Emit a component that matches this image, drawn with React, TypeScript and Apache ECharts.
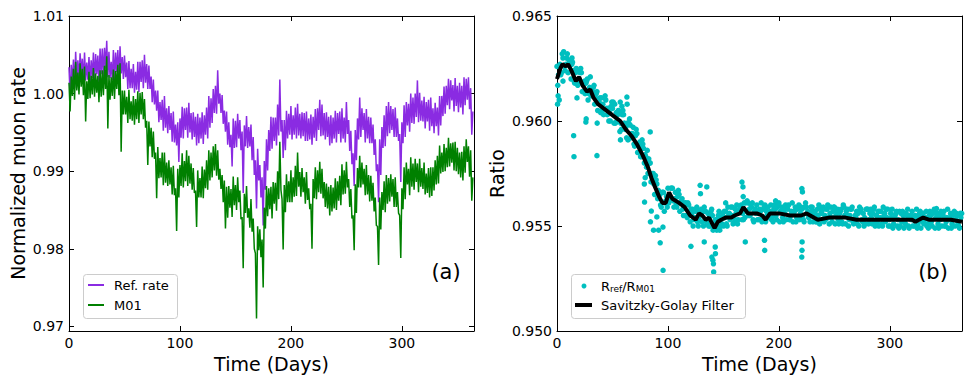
import React, { useEffect, useRef } from "react";
import * as echarts from "echarts";

const FONT = "DejaVu Sans";

// Left panel: the noisy rates are given as their upper envelope (even days 0..364)
const evenDays: number[] = Array.from({ length: 183 }, (_, i) => i * 2);
const oddDays: number[] = Array.from({ length: 182 }, (_, i) => i * 2 + 1);

const refRateHigh: number[] = [
  1.0034, 1.0037, 1.0044, 1.0054, 1.0043, 1.0052, 1.0045, 1.0053, 1.0040, 1.0047,
  1.0043, 1.0053, 1.0051, 1.0049, 1.0058, 1.0058, 1.0059, 1.0068, 1.0054, 1.0041,
  1.0056, 1.0053, 1.0056, 1.0061, 1.0047, 1.0049, 1.0040, 1.0042, 1.0032, 1.0038,
  1.0028, 1.0041, 1.0041, 1.0043, 1.0050, 1.0038, 1.0036, 1.0022, 1.0018, 1.0004,
  1.0004, 0.9989, 0.9992, 0.9997, 0.9981, 0.9984, 0.9975, 0.9977, 0.9960, 0.9963,
  0.9968, 0.9983, 0.9981, 0.9982, 0.9988, 0.9975, 0.9976, 0.9970, 0.9974, 0.9969,
  0.9976, 0.9972, 0.9982, 0.9997, 0.9994, 1.0006, 1.0010, 1.0030, 1.0000, 0.9998,
  0.9978, 0.9977, 0.9963, 0.9947, 0.9968, 0.9965, 0.9974, 0.9966, 0.9951, 0.9959,
  0.9971, 0.9957, 0.9960, 0.9944, 0.9914, 0.9929, 0.9908, 0.9892, 0.9913, 0.9941,
  0.9953, 0.9970, 0.9969, 0.9969, 0.9986, 1.0018, 0.9966, 0.9966, 0.9978, 0.9974,
  0.9984, 0.9972, 0.9982, 0.9987, 0.9974, 0.9976, 0.9975, 0.9977, 0.9968, 0.9973,
  0.9970, 0.9980, 0.9981, 0.9992, 0.9986, 0.9975, 0.9976, 0.9970, 0.9972, 0.9969,
  0.9978, 0.9975, 0.9977, 0.9981, 0.9969, 0.9989, 0.9966, 0.9952, 0.9923, 0.9953,
  0.9968, 0.9995, 0.9981, 0.9975, 0.9980, 0.9970, 0.9969, 0.9960, 0.9941, 0.9909,
  0.9941, 0.9957, 0.9972, 0.9984, 0.9989, 0.9984, 0.9980, 0.9982, 0.9968, 0.9948,
  0.9963, 0.9985, 0.9989, 0.9987, 1.0000, 0.9995, 1.0000, 1.0017, 1.0001, 0.9991,
  0.9996, 0.9989, 0.9992, 0.9995, 0.9981, 0.9988, 0.9982, 0.9997, 0.9997, 1.0009,
  1.0010, 1.0019, 1.0017, 1.0011, 1.0020, 1.0010, 1.0014, 1.0010, 1.0021, 1.0019,
  1.0021, 1.0007, 0.9977,
];

const refRateLow: number[] = [
  0.9997, 1.0014, 1.0007, 1.0018, 1.0017, 1.0025, 1.0014, 1.0017, 1.0018, 1.0014,
  1.0020, 1.0014, 1.0025, 1.0013, 1.0025, 1.0022, 1.0032, 1.0021, 1.0020, 1.0017,
  1.0017, 1.0028, 1.0020, 1.0026, 1.0019, 1.0021, 1.0006, 1.0007, 1.0007, 1.0001,
  1.0005, 1.0002, 1.0015, 1.0007, 1.0014, 1.0006, 1.0006, 0.9989, 0.9986, 0.9978,
  0.9963, 0.9966, 0.9952, 0.9956, 0.9949, 0.9953, 0.9938, 0.9937, 0.9933, 0.9912,
  0.9943, 0.9942, 0.9953, 0.9943, 0.9950, 0.9941, 0.9944, 0.9933, 0.9936, 0.9942,
  0.9935, 0.9947, 0.9942, 0.9956, 0.9962, 0.9975, 0.9974, 0.9987, 0.9975, 0.9961,
  0.9951, 0.9934, 0.9931, 0.9906, 0.9930, 0.9931, 0.9942, 0.9927, 0.9872, 0.9932,
  0.9930, 0.9932, 0.9914, 0.9895, 0.9852, 0.9888, 0.9866, 0.9830, 0.9876, 0.9901,
  0.9926, 0.9929, 0.9939, 0.9933, 0.9946, 0.9951, 0.9917, 0.9927, 0.9942, 0.9947,
  0.9941, 0.9947, 0.9942, 0.9946, 0.9942, 0.9945, 0.9939, 0.9939, 0.9941, 0.9934,
  0.9943, 0.9939, 0.9953, 0.9945, 0.9946, 0.9941, 0.9944, 0.9933, 0.9936, 0.9942,
  0.9937, 0.9948, 0.9937, 0.9942, 0.9937, 0.9948, 0.9926, 0.9909, 0.9881, 0.9914,
  0.9941, 0.9944, 0.9953, 0.9937, 0.9942, 0.9936, 0.9936, 0.9921, 0.9900, 0.9860,
  0.9895, 0.9930, 0.9932, 0.9945, 0.9949, 0.9953, 0.9944, 0.9944, 0.9939, 0.9886,
  0.9936, 0.9944, 0.9959, 0.9951, 0.9962, 0.9961, 0.9970, 0.9963, 0.9965, 0.9964,
  0.9955, 0.9964, 0.9952, 0.9958, 0.9949, 0.9958, 0.9946, 0.9959, 0.9971, 0.9974,
  0.9985, 0.9980, 0.9991, 0.9977, 0.9984, 0.9976, 0.9982, 0.9973, 0.9985, 0.9992,
  0.9980, 0.9947,
];

const m01RateHigh: number[] = [
  1.0014, 1.0022, 1.0032, 1.0041, 1.0027, 1.0039, 1.0032, 1.0035, 1.0016, 1.0028,
  1.0023, 1.0033, 1.0026, 1.0023, 1.0030, 1.0030, 1.0036, 1.0048, 1.0024, 1.0021,
  1.0031, 1.0029, 1.0037, 1.0039, 1.0004, 1.0004, 0.9996, 1.0005, 0.9990, 0.9997,
  0.9993, 1.0003, 1.0001, 1.0002, 0.9993, 0.9965, 0.9964, 0.9956, 0.9951, 0.9924,
  0.9931, 0.9917, 0.9924, 0.9924, 0.9911, 0.9914, 0.9905, 0.9907, 0.9878, 0.9903,
  0.9908, 0.9923, 0.9913, 0.9927, 0.9920, 0.9910, 0.9904, 0.9875, 0.9901, 0.9891,
  0.9906, 0.9902, 0.9914, 0.9927, 0.9924, 0.9932, 0.9935, 0.9927, 0.9903, 0.9895,
  0.9888, 0.9880, 0.9881, 0.9877, 0.9893, 0.9882, 0.9892, 0.9875, 0.9841, 0.9871,
  0.9881, 0.9852, 0.9864, 0.9839, 0.9794, 0.9829, 0.9825, 0.9812, 0.9853, 0.9881,
  0.9878, 0.9880, 0.9886, 0.9885, 0.9900, 0.9938, 0.9864, 0.9882, 0.9896, 0.9887,
  0.9901, 0.9892, 0.9907, 0.9924, 0.9899, 0.9904, 0.9892, 0.9899, 0.9878, 0.9858,
  0.9890, 0.9905, 0.9901, 0.9912, 0.9903, 0.9886, 0.9884, 0.9880, 0.9882, 0.9879,
  0.9891, 0.9887, 0.9894, 0.9909, 0.9901, 0.9912, 0.9890, 0.9877, 0.9843, 0.9883,
  0.9904, 0.9920, 0.9911, 0.9903, 0.9908, 0.9895, 0.9894, 0.9885, 0.9866, 0.9829,
  0.9866, 0.9873, 0.9887, 0.9895, 0.9891, 0.9896, 0.9890, 0.9892, 0.9873, 0.9843,
  0.9878, 0.9905, 0.9911, 0.9903, 0.9918, 0.9910, 0.9916, 0.9910, 0.9916, 0.9904,
  0.9911, 0.9897, 0.9904, 0.9905, 0.9905, 0.9914, 0.9920, 0.9933, 0.9924, 0.9935,
  0.9930, 0.9943, 0.9936, 0.9937, 0.9938, 0.9930, 0.9924, 0.9925, 0.9932, 0.9941,
  0.9932, 0.9927, 0.9892,
];

const m01RateLow: number[] = [
  0.9977, 0.9997, 0.9992, 1.0004, 0.9999, 1.0009, 0.9998, 0.9964, 0.9993, 0.9994,
  0.9999, 0.9996, 1.0001, 0.9989, 0.9996, 0.9998, 1.0006, 0.9955, 0.9992, 0.9997,
  0.9993, 1.0006, 0.9998, 0.9925, 0.9973, 0.9973, 0.9962, 0.9967, 0.9965, 0.9960,
  0.9967, 0.9962, 0.9973, 0.9967, 0.9956, 0.9908, 0.9932, 0.9918, 0.9916, 0.9865,
  0.9891, 0.9892, 0.9882, 0.9885, 0.9881, 0.9883, 0.9870, 0.9869, 0.9823, 0.9866,
  0.9881, 0.9879, 0.9887, 0.9881, 0.9884, 0.9876, 0.9872, 0.9828, 0.9866, 0.9866,
  0.9865, 0.9878, 0.9876, 0.9888, 0.9892, 0.9901, 0.9894, 0.9889, 0.9877, 0.9860,
  0.9826, 0.9840, 0.9853, 0.9841, 0.9856, 0.9850, 0.9860, 0.9838, 0.9775, 0.9846,
  0.9840, 0.9827, 0.9822, 0.9800, 0.9710, 0.9798, 0.9789, 0.9750, 0.9826, 0.9842,
  0.9851, 0.9839, 0.9858, 0.9849, 0.9864, 0.9876, 0.9799, 0.9847, 0.9860, 0.9860,
  0.9860, 0.9867, 0.9868, 0.9880, 0.9867, 0.9873, 0.9858, 0.9863, 0.9851, 0.9800,
  0.9865, 0.9864, 0.9873, 0.9871, 0.9865, 0.9854, 0.9852, 0.9843, 0.9848, 0.9852,
  0.9850, 0.9862, 0.9856, 0.9870, 0.9871, 0.9879, 0.9854, 0.9839, 0.9798, 0.9846,
  0.9879, 0.9879, 0.9883, 0.9869, 0.9870, 0.9861, 0.9862, 0.9848, 0.9830, 0.9779,
  0.9825, 0.9850, 0.9847, 0.9858, 0.9861, 0.9867, 0.9854, 0.9854, 0.9846, 0.9788,
  0.9851, 0.9864, 0.9883, 0.9869, 0.9880, 0.9876, 0.9886, 0.9873, 0.9880, 0.9877,
  0.9870, 0.9872, 0.9866, 0.9868, 0.9875, 0.9883, 0.9884, 0.9897, 0.9899, 0.9900,
  0.9905, 0.9906, 0.9911, 0.9901, 0.9900, 0.9896, 0.9892, 0.9888, 0.9898, 0.9912,
  0.9893, 0.9862,
];

// Right panel: ratio scatter, three interleaved sample sets (at even day, +0.7, +1.35)
const ratioSetA: number[] = [
  0.9626, 0.9626, 0.9623, 0.9633, 0.9627, 0.9623, 0.9628, 0.9628, 0.9618, 0.9624,
  0.9618, 0.9623, 0.9617, 0.9618, 0.9610, 0.9621, 0.9614, 0.9608, 0.9614, 0.9609,
  0.9611, 0.9603, 0.9610, 0.9606, 0.9600, 0.9606, 0.9608, 0.9600, 0.9604, 0.9596,
  0.9603, 0.9597, 0.9591, 0.9598, 0.9594, 0.9588, 0.9594, 0.9588, 0.9583, 0.9587,
  0.9583, 0.9575, 0.9580, 0.9573, 0.9565, 0.9570, 0.9566, 0.9559, 0.9566, 0.9562,
  0.9568, 0.9563, 0.9568, 0.9563, 0.9559, 0.9565, 0.9562, 0.9555, 0.9561, 0.9561,
  0.9552, 0.9558, 0.9554, 0.9559, 0.9554, 0.9558, 0.9550, 0.9557, 0.9556, 0.9550,
  0.9555, 0.9551, 0.9548, 0.9557, 0.9554, 0.9550, 0.9557, 0.9559, 0.9553, 0.9559,
  0.9552, 0.9560, 0.9557, 0.9560, 0.9553, 0.9561, 0.9561, 0.9555, 0.9561, 0.9557,
  0.9560, 0.9553, 0.9561, 0.9558, 0.9552, 0.9559, 0.9557, 0.9554, 0.9560, 0.9553,
  0.9561, 0.9557, 0.9552, 0.9560, 0.9558, 0.9553, 0.9561, 0.9557, 0.9554, 0.9560,
  0.9559, 0.9553, 0.9561, 0.9557, 0.9552, 0.9559, 0.9557, 0.9552, 0.9560, 0.9556,
  0.9559, 0.9553, 0.9560, 0.9556, 0.9552, 0.9559, 0.9557, 0.9551, 0.9558, 0.9560,
  0.9551, 0.9558, 0.9555, 0.9559, 0.9552, 0.9557, 0.9550, 0.9558, 0.9556, 0.9551,
  0.9558, 0.9556, 0.9551, 0.9559, 0.9555, 0.9550, 0.9557, 0.9559, 0.9552, 0.9558,
  0.9550, 0.9558, 0.9554, 0.9557, 0.9549, 0.9556, 0.9555, 0.9551, 0.9558, 0.9554,
  0.9557, 0.9550, 0.9558, 0.9555, 0.9549, 0.9556, 0.9554, 0.9551, 0.9557, 0.9550,
  0.9558, 0.9554, 0.9549, 0.9557, 0.9555, 0.9550, 0.9558, 0.9554, 0.9551, 0.9557,
  0.9556, 0.9550, 0.9554,
];

const ratioSetB: number[] = [
  0.9617, 0.9627, 0.9632, 0.9626, 0.9630, 0.9629, 0.9620, 0.9624, 0.9623, 0.9617,
  0.9623, 0.9614, 0.9619, 0.9619, 0.9613, 0.9612, 0.9616, 0.9611, 0.9605, 0.9611,
  0.9605, 0.9611, 0.9606, 0.9600, 0.9607, 0.9609, 0.9599, 0.9603, 0.9595, 0.9603,
  0.9599, 0.9592, 0.9599, 0.9592, 0.9597, 0.9593, 0.9585, 0.9590, 0.9591, 0.9580,
  0.9578, 0.9582, 0.9571, 0.9575, 0.9574, 0.9563, 0.9565, 0.9566, 0.9557, 0.9564,
  0.9561, 0.9568, 0.9562, 0.9566, 0.9564, 0.9557, 0.9563, 0.9560, 0.9555, 0.9560,
  0.9558, 0.9550, 0.9557, 0.9552, 0.9557, 0.9552, 0.9559, 0.9552, 0.9550, 0.9557,
  0.9548, 0.9553, 0.9553, 0.9548, 0.9551, 0.9557, 0.9551, 0.9555, 0.9559, 0.9551,
  0.9558, 0.9551, 0.9558, 0.9553, 0.9561, 0.9557, 0.9555, 0.9560, 0.9553, 0.9558,
  0.9553, 0.9558, 0.9552, 0.9559, 0.9557, 0.9554, 0.9560, 0.9552, 0.9558, 0.9559,
  0.9552, 0.9559, 0.9558, 0.9553, 0.9560, 0.9555, 0.9552, 0.9559, 0.9558, 0.9553,
  0.9558, 0.9552, 0.9559, 0.9554, 0.9559, 0.9552, 0.9556, 0.9558, 0.9551, 0.9557,
  0.9552, 0.9558, 0.9554, 0.9559, 0.9557, 0.9551, 0.9558, 0.9556, 0.9552, 0.9559,
  0.9557, 0.9550, 0.9558, 0.9552, 0.9555, 0.9551, 0.9559, 0.9553, 0.9550, 0.9558,
  0.9551, 0.9558, 0.9556, 0.9550, 0.9552, 0.9557, 0.9551, 0.9555, 0.9558, 0.9550,
  0.9556, 0.9549, 0.9555, 0.9550, 0.9557, 0.9552, 0.9549, 0.9556, 0.9550, 0.9555,
  0.9550, 0.9555, 0.9549, 0.9556, 0.9554, 0.9551, 0.9557, 0.9549, 0.9555, 0.9556,
  0.9549, 0.9556, 0.9555, 0.9550, 0.9557, 0.9552, 0.9549, 0.9556, 0.9555, 0.9550,
  0.9555, 0.9549, 0.9556,
];

const ratioSetC: number[] = [
  0.9622, 0.9622, 0.9630, 0.9624, 0.9632, 0.9627, 0.9627, 0.9619, 0.9625, 0.9619,
  0.9625, 0.9618, 0.9613, 0.9620, 0.9616, 0.9613, 0.9617, 0.9613, 0.9609, 0.9604,
  0.9608, 0.9612, 0.9603, 0.9604, 0.9609, 0.9599, 0.9604, 0.9605, 0.9599, 0.9605,
  0.9596, 0.9599, 0.9601, 0.9594, 0.9589, 0.9596, 0.9589, 0.9583, 0.9589, 0.9584,
  0.9586, 0.9580, 0.9575, 0.9570, 0.9572, 0.9567, 0.9560, 0.9566, 0.9561, 0.9559,
  0.9564, 0.9568, 0.9559, 0.9561, 0.9567, 0.9561, 0.9558, 0.9561, 0.9554, 0.9556,
  0.9556, 0.9553, 0.9558, 0.9550, 0.9556, 0.9557, 0.9557, 0.9551, 0.9554, 0.9558,
  0.9550, 0.9549, 0.9555, 0.9550, 0.9556, 0.9554, 0.9550, 0.9556, 0.9555, 0.9554,
  0.9556, 0.9553, 0.9559, 0.9556, 0.9554, 0.9562, 0.9558, 0.9559, 0.9552, 0.9556,
  0.9556, 0.9557, 0.9554, 0.9560, 0.9555, 0.9556, 0.9553, 0.9558, 0.9555, 0.9560,
  0.9557, 0.9554, 0.9556, 0.9559, 0.9553, 0.9557, 0.9556, 0.9552, 0.9559, 0.9556,
  0.9555, 0.9559, 0.9556, 0.9554, 0.9557, 0.9556, 0.9552, 0.9555, 0.9559, 0.9553,
  0.9555, 0.9558, 0.9551, 0.9554, 0.9559, 0.9555, 0.9553, 0.9557, 0.9551, 0.9555,
  0.9555, 0.9553, 0.9558, 0.9551, 0.9554, 0.9556, 0.9557, 0.9552, 0.9554, 0.9558,
  0.9553, 0.9554, 0.9558, 0.9552, 0.9557, 0.9554, 0.9550, 0.9556, 0.9554, 0.9553,
  0.9554, 0.9551, 0.9556, 0.9553, 0.9550, 0.9557, 0.9552, 0.9555, 0.9549, 0.9553,
  0.9553, 0.9554, 0.9551, 0.9557, 0.9552, 0.9553, 0.9550, 0.9555, 0.9552, 0.9557,
  0.9554, 0.9551, 0.9553, 0.9556, 0.9550, 0.9554, 0.9553, 0.9549, 0.9556, 0.9553,
  0.9552, 0.9556, 0.9553,
];

// Outlying ratio points: [day, ratio]
const ratioOutliers: [number, number][] = [
  [0.5, 0.9608], [1, 0.9612], [2, 0.9610], [5.4, 0.9619], [13.5, 0.9630],
  [15, 0.9593], [15.3, 0.9583], [18, 0.9611], [26, 0.95995], [26.3, 0.9601],
  [36, 0.95835], [36.2, 0.9599], [57, 0.9609], [58.5, 0.9607], [63, 0.96114],
  [63.2, 0.9608], [57.2, 0.9591], [84, 0.95948], [78.7, 0.9570], [79.5, 0.9573],
  [78.9, 0.95614], [85, 0.95571], [84.2, 0.9552], [87, 0.9548], [91.6, 0.9548],
  [90, 0.95543], [95.5, 0.95495], [95.6, 0.95289], [93, 0.9542], [120.7, 0.95403],
  [129, 0.95694], [129.3, 0.95654], [135, 0.95686], [132.7, 0.95424], [139.6, 0.95352],
  [141, 0.9532], [142.6, 0.9540], [142.8, 0.95368], [141.2, 0.95281], [140.5, 0.95337],
  [169.7, 0.95424], [166.7, 0.95709], [167.6, 0.95686], [167.8, 0.9564], [187, 0.95432],
  [187.2, 0.95384], [220.7, 0.95678], [221.2, 0.95662], [220.9, 0.95424], [220.8, 0.95384],
  [220.6, 0.95352], [342, 0.95583], [197, 0.9562], [120, 0.95565], [152, 0.95610],
];

// Savitzky-Golay smoothed curve
const sgDays: number[] = [
  0, 3, 5, 8, 10, 13, 17, 20, 23, 27, 30, 33, 37, 42, 47, 52, 57, 62, 67, 72,
  77, 82, 85, 88, 92, 95, 98, 101, 104, 110, 115, 120, 125, 128, 131, 134, 137, 140, 142, 145,
  148, 152, 157, 160, 165, 168, 172, 180, 185, 188, 192, 200, 210, 220, 225, 235, 245, 260, 270, 285,
  300, 320, 323, 330, 335, 345, 355, 365,
];
const sgValues: number[] = [
  0.9620, 0.9625, 0.9627, 0.9626, 0.9627, 0.9624, 0.9619, 0.9621, 0.9617, 0.9614,
  0.9615, 0.9611, 0.9608, 0.9606, 0.9604, 0.9602, 0.9600, 0.9596, 0.9593, 0.9589,
  0.9584, 0.9578, 0.9573, 0.9569, 0.9564, 0.9561, 0.9561, 0.9566, 0.9563, 0.9561,
  0.9559, 0.9555, 0.9553, 0.9556, 0.9555, 0.9553, 0.9554, 0.9551, 0.9549, 0.9552,
  0.9553, 0.9554, 0.9554, 0.9555, 0.9556, 0.9559, 0.9556, 0.9556, 0.9555, 0.9553,
  0.9556, 0.9556, 0.9555, 0.9555, 0.9556, 0.9553, 0.9554, 0.9554, 0.9553, 0.9553,
  0.9553, 0.9553, 0.9552, 0.9554, 0.9553, 0.9553, 0.9553, 0.9552,
];

const xTicks = [0, 100, 200, 300];
const leftYTicks = [0.97, 0.98, 0.99, 1.0, 1.01];
const rightYTicks = [0.95, 0.955, 0.96, 0.965];

const PURPLE = "#8A2BE2";
const GREEN = "#008000";
const CYAN = "#00BFBF";

function xAxisDef(gridIndex: number, top: boolean) {
  return {
    type: "value",
    gridIndex,
    min: 0,
    max: 365,
    position: top ? "top" : "bottom",
    axisLine: { show: true, onZero: false, lineStyle: { color: "#000", width: 1 } },
    axisTick: { show: true, inside: true, length: 5, customValues: xTicks, lineStyle: { color: "#000", width: 1 } },
    axisLabel: top
      ? { show: false }
      : { show: true, customValues: xTicks, color: "#000", fontSize: 14, fontFamily: FONT, margin: 5 },
    splitLine: { show: false },
    ...(top
      ? {}
      : {
          name: "Time (Days)",
          nameLocation: "middle",
          nameGap: 20,
          nameTextStyle: { fontSize: 19, color: "#000", fontFamily: FONT },
        }),
  };
}

function yAxisDef(gridIndex: number, right: boolean, min: number, max: number, ticks: number[], digits: number, name: string, nameGap: number) {
  return {
    type: "value",
    gridIndex,
    min,
    max,
    position: right ? "right" : "left",
    axisLine: { show: true, onZero: false, lineStyle: { color: "#000", width: 1 } },
    axisTick: { show: true, inside: true, length: 5, customValues: ticks, lineStyle: { color: "#000", width: 1 } },
    axisLabel: right
      ? { show: false }
      : {
          show: true,
          customValues: ticks,
          color: "#000",
          fontSize: 14,
          fontFamily: FONT,
          margin: 5,
          formatter: (v: number) => v.toFixed(digits),
        },
    splitLine: { show: false },
    ...(right
      ? {}
      : {
          name,
          nameLocation: "middle",
          nameGap,
          nameRotate: 90,
          nameTextStyle: { fontSize: 19, color: "#000", fontFamily: FONT },
        }),
  };
}

function mergeSeries(high: number[], low: number[]): number[][] {
  const out: number[][] = [];
  evenDays.forEach((d, i) => {
    out.push([d, high[i]]);
    if (i < oddDays.length) out.push([oddDays[i], low[i]]);
  });
  return out;
}

export default function App() {
  const ref = useRef<HTMLDivElement>(null);

  useEffect(() => {
    if (!ref.current) return;
    const chart = echarts.init(ref.current, undefined, { renderer: "svg" });

    const refData = mergeSeries(refRateHigh, refRateLow);
    const m01Data = mergeSeries(m01RateHigh, m01RateLow);
    const scatterData: number[][] = [];
    evenDays.forEach((d, i) => {
      scatterData.push([d, ratioSetA[i]]);
      scatterData.push([d + 0.7, ratioSetB[i]]);
      scatterData.push([d + 1.35, ratioSetC[i]]);
    });
    ratioOutliers.forEach((p) => scatterData.push([p[0], p[1]]));
    const sgData = sgDays.map((d, i) => [d, sgValues[i]]);

    const textEl = (t: string, x: number, y: number, size: number, align = "left") => ({
      type: "text",
      x,
      y,
      z: 100,
      style: { text: t, fill: "#000", font: `${size}px "${FONT}"`, textAlign: align, textVerticalAlign: "middle" },
    });

    chart.setOption({
      animation: false,
      backgroundColor: "#ffffff",
      grid: [
        { left: 69, top: 16, width: 405, height: 315 },
        { left: 557, top: 16, width: 405, height: 315 },
      ],
      xAxis: [xAxisDef(0, false), xAxisDef(0, true), xAxisDef(1, false), xAxisDef(1, true)],
      yAxis: [
        yAxisDef(0, false, 0.9694, 1.01, leftYTicks, 2, "Normalized muon rate", 42),
        yAxisDef(0, true, 0.9694, 1.01, leftYTicks, 2, "", 0),
        yAxisDef(1, false, 0.95, 0.965, rightYTicks, 3, "Ratio", 51),
        yAxisDef(1, true, 0.95, 0.965, rightYTicks, 3, "", 0),
      ],
      series: [
        {
          name: "Ref. rate",
          type: "line",
          xAxisIndex: 0,
          yAxisIndex: 0,
          data: refData,
          showSymbol: false,
          symbol: "none",
          lineStyle: { color: PURPLE, width: 1.5 },
          z: 2,
        },
        {
          name: "M01",
          type: "line",
          xAxisIndex: 0,
          yAxisIndex: 0,
          data: m01Data,
          showSymbol: false,
          symbol: "none",
          lineStyle: { color: GREEN, width: 1.5 },
          z: 3,
        },
        {
          name: "Rref/RM01",
          type: "scatter",
          xAxisIndex: 2,
          yAxisIndex: 2,
          data: scatterData,
          symbolSize: 5.5,
          itemStyle: { color: CYAN, opacity: 1 },
          z: 2,
        },
        {
          name: "Savitzky-Golay Filter",
          type: "line",
          xAxisIndex: 2,
          yAxisIndex: 2,
          data: sgData,
          showSymbol: false,
          symbol: "none",
          lineStyle: { color: "#000", width: 4 },
          z: 4,
        },
      ],
      graphic: [
        {
          type: "rect",
          z: 90,
          shape: { x: 83.5, y: 274.5, width: 94, height: 44, r: 3 },
          style: { fill: "rgba(255,255,255,0.85)", stroke: "#cccccc", lineWidth: 1 },
        },
        { type: "line", z: 95, shape: { x1: 88, y1: 285, x2: 104, y2: 285 }, style: { stroke: PURPLE, lineWidth: 2 } },
        textEl("Ref. rate", 114, 285, 13),
        { type: "line", z: 95, shape: { x1: 88, y1: 305, x2: 104, y2: 305 }, style: { stroke: GREEN, lineWidth: 2 } },
        textEl("M01", 114, 305, 13),
        textEl("(a)", 446, 272, 21, "center"),
        {
          type: "rect",
          z: 90,
          shape: { x: 571.5, y: 274.5, width: 174, height: 44, r: 3 },
          style: { fill: "rgba(255,255,255,0.85)", stroke: "#cccccc", lineWidth: 1 },
        },
        { type: "circle", z: 95, shape: { cx: 584, cy: 286, r: 2.5 }, style: { fill: CYAN } },
        {
          type: "text",
          x: 601,
          y: 286,
          z: 100,
          style: {
            text: "R{sub|ref}/R{sub|M01}",
            fill: "#000",
            font: `13px "${FONT}"`,
            textVerticalAlign: "middle",
            rich: {
              sub: { fontSize: 9, fontFamily: FONT, fill: "#000", verticalAlign: "bottom", padding: [6, 0, 0, 0] },
            },
          },
        },
        { type: "line", z: 95, shape: { x1: 575, y1: 305, x2: 592, y2: 305 }, style: { stroke: "#000", lineWidth: 4 } },
        textEl("Savitzky-Golay Filter", 601, 305, 13),
        textEl("(b)", 933, 272, 21, "center"),
      ],
    });

    return () => chart.dispose();
  }, []);

  return (
    <div
      ref={ref}
      style={{ position: "fixed", left: 0, top: 0, width: 972, height: 383, background: "#fff" }}
    />
  );
}
